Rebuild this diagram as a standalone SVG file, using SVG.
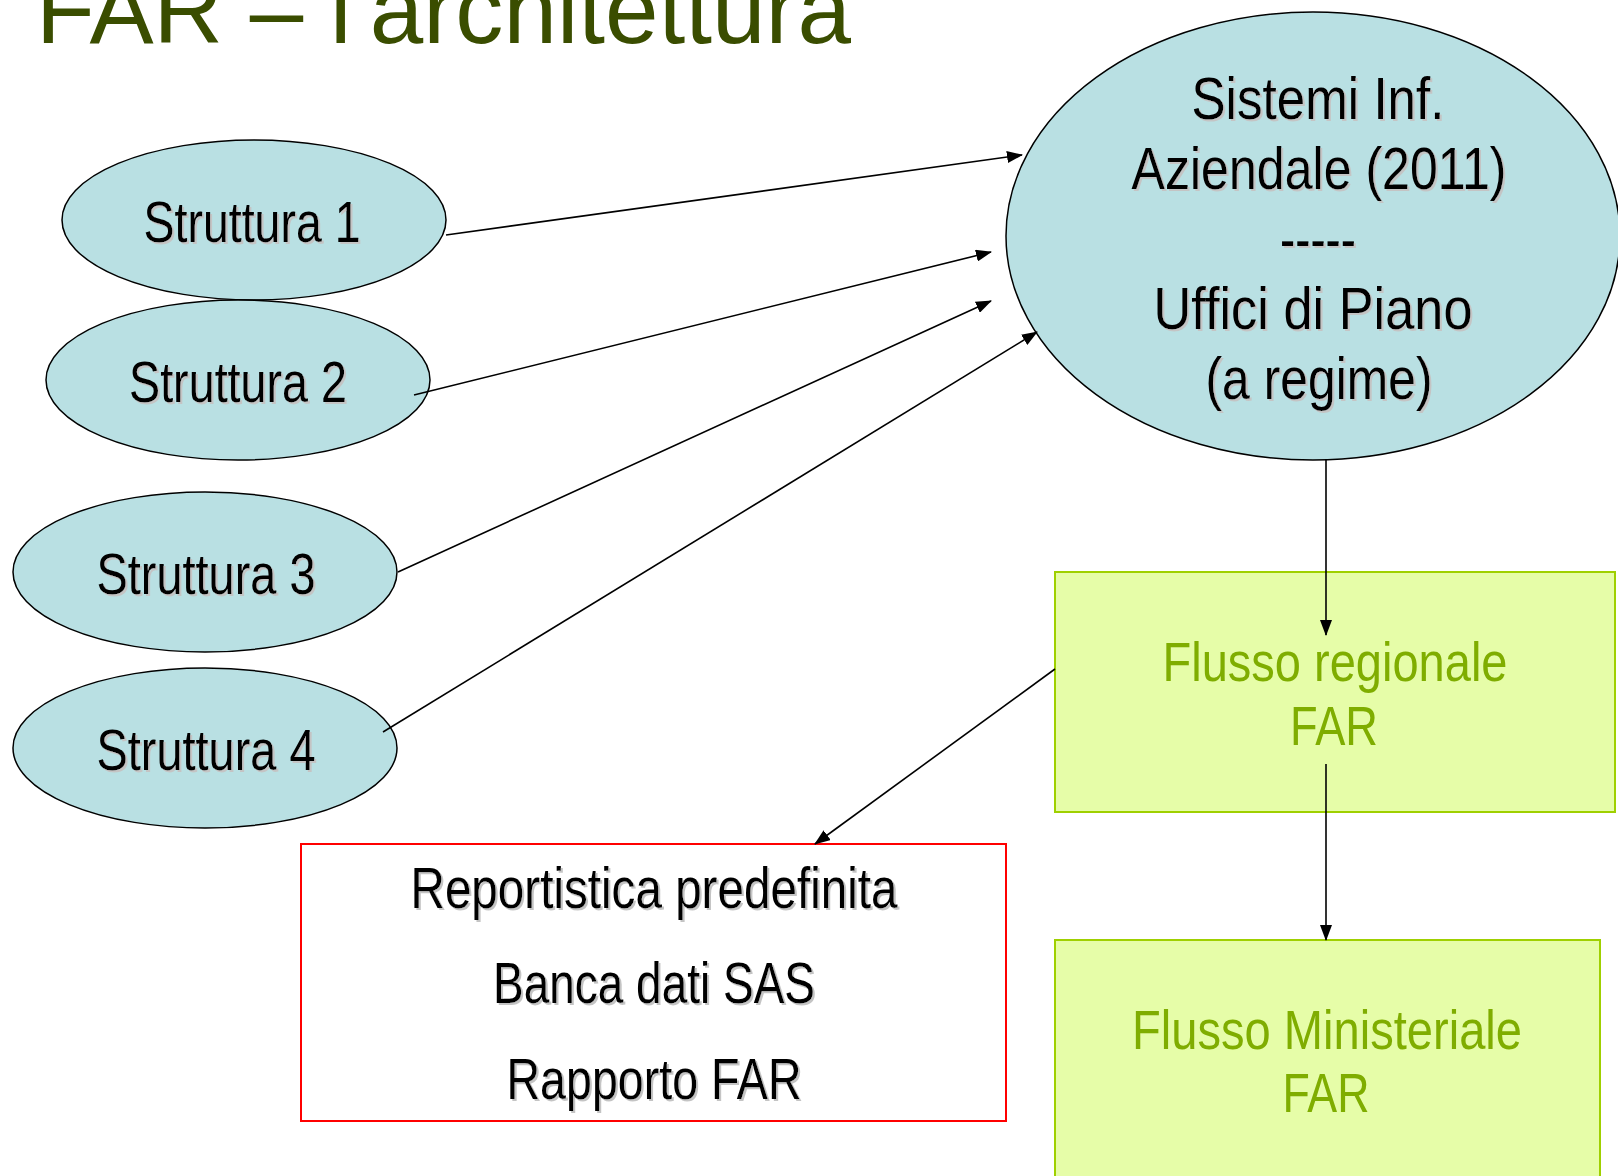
<svg xmlns="http://www.w3.org/2000/svg" width="1618" height="1176" viewBox="0 0 1618 1176">
<style>
.ell{fill:#b9e0e3;stroke:#000;stroke-width:1.5}
.t{font-family:"Liberation Sans Narrow","Liberation Sans",Arial,sans-serif;fill:#000;text-anchor:middle;filter:url(#sh)}
.g{font-family:"Liberation Sans Narrow","Liberation Sans",Arial,sans-serif;fill:#7fad00;text-anchor:middle}
.green{fill:#e6fda8;stroke:#9fd000;stroke-width:2}
.red{fill:#fff;stroke:#ff0000;stroke-width:2}
.c{stroke:#000;stroke-width:1.6;fill:none;marker-end:url(#ah)}
.title{font-family:"Liberation Sans",Arial,sans-serif;font-size:96px;fill:#3a4d00}
</style>
<defs>
<filter id="sh" x="-5%" y="-20%" width="110%" height="140%">
<feDropShadow dx="2" dy="2" stdDeviation="0" flood-color="#c4c4c4" flood-opacity="1"/>
</filter>
<marker id="ah" markerWidth="16" markerHeight="12" refX="15" refY="6" orient="auto" markerUnits="userSpaceOnUse">
<path d="M0,0 L16,6 L0,12 Z" fill="#000"/>
</marker>
</defs>
<rect width="1618" height="1176" fill="#fff"/>
<g id="title"><text class="title" x="36" y="43" textLength="815" lengthAdjust="spacingAndGlyphs">FAR – l'architettura</text></g>

<g id="sistemi">
<ellipse class="ell" cx="1313" cy="236" rx="307" ry="224"/>
<text class="t" font-size="60" x="1318" y="119" textLength="253" lengthAdjust="spacingAndGlyphs">Sistemi Inf.</text>
<text class="t" font-size="60" x="1319" y="189" textLength="375" lengthAdjust="spacingAndGlyphs">Aziendale (2011)</text>
<text class="t" font-size="60" x="1318" y="259" textLength="76" lengthAdjust="spacingAndGlyphs">-----</text>
<text class="t" font-size="60" x="1313" y="329" textLength="319" lengthAdjust="spacingAndGlyphs">Uffici di Piano</text>
<text class="t" font-size="60" x="1319" y="399" textLength="227" lengthAdjust="spacingAndGlyphs">(a regime)</text>
</g>

<g id="struttura1">
<ellipse class="ell" cx="254" cy="220" rx="192" ry="80"/>
<text class="t" font-size="57" x="252" y="242" textLength="217" lengthAdjust="spacingAndGlyphs">Struttura 1</text>
</g>
<g id="struttura2">
<ellipse class="ell" cx="238" cy="380" rx="192" ry="80"/>
<text class="t" font-size="57" x="238" y="402" textLength="218" lengthAdjust="spacingAndGlyphs">Struttura 2</text>
</g>
<g id="struttura3">
<ellipse class="ell" cx="205" cy="572" rx="192" ry="80"/>
<text class="t" font-size="57" x="206" y="594" textLength="219" lengthAdjust="spacingAndGlyphs">Struttura 3</text>
</g>
<g id="struttura4">
<ellipse class="ell" cx="205" cy="748" rx="192" ry="80"/>
<text class="t" font-size="57" x="206" y="770" textLength="219" lengthAdjust="spacingAndGlyphs">Struttura 4</text>
</g>

<g id="flusso-regionale">
<rect class="green" x="1055" y="572" width="560" height="240"/>
<text class="g" font-size="56" x="1335" y="681" textLength="345" lengthAdjust="spacingAndGlyphs">Flusso regionale</text>
<text class="g" font-size="56" x="1334" y="745" textLength="88" lengthAdjust="spacingAndGlyphs">FAR</text>
</g>

<g id="flusso-ministeriale">
<rect class="green" x="1055" y="940" width="545" height="250"/>
<text class="g" font-size="56" x="1327" y="1049" textLength="390" lengthAdjust="spacingAndGlyphs">Flusso Ministeriale</text>
<text class="g" font-size="56" x="1326" y="1112" textLength="87" lengthAdjust="spacingAndGlyphs">FAR</text>
</g>

<g id="reportistica">
<rect class="red" x="301" y="844" width="705" height="277"/>
<text class="t" font-size="58" x="654" y="908" textLength="487" lengthAdjust="spacingAndGlyphs">Reportistica predefinita</text>
<text class="t" font-size="58" x="654" y="1003" textLength="322" lengthAdjust="spacingAndGlyphs">Banca dati SAS</text>
<text class="t" font-size="58" x="654" y="1099" textLength="295" lengthAdjust="spacingAndGlyphs">Rapporto FAR</text>
</g>

<g id="connectors">
<line class="c" x1="446" y1="235" x2="1022" y2="155"/>
<line class="c" x1="414" y1="395" x2="991" y2="252"/>
<line class="c" x1="398" y1="572" x2="991" y2="301"/>
<line class="c" x1="383" y1="732" x2="1037" y2="332"/>
<line class="c" x1="1326" y1="460" x2="1326" y2="635"/>
<line class="c" x1="1326" y1="764" x2="1326" y2="940"/>
<line class="c" x1="1055" y1="669" x2="815" y2="844"/>
</g>
</svg>
